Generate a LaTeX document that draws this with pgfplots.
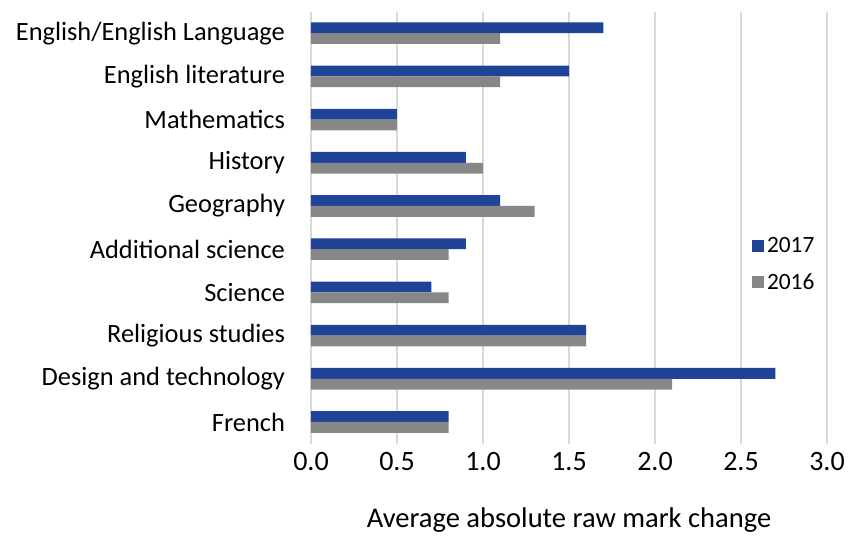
\documentclass[border=0pt]{standalone}
\usepackage{pgfplots}
\pgfplotsset{compat=1.18}
\usepackage{fontspec}
\setmainfont{Carlito}
\definecolor{c2017}{HTML}{1F4497}
\definecolor{c2016}{HTML}{878787}
\definecolor{gridc}{HTML}{D9D9D9}
\begin{document}
\begin{tikzpicture}
\useasboundingbox (-233.25pt,-70.8pt) rectangle (405.75pt,332.7pt);
\begin{axis}[
  at={(0,0)}, anchor=south west,
  scale only axis, width=387pt, height=324pt,
  xbar, bar width=0.25,
  xmin=0, xmax=3, ymin=-0.5, ymax=9.5,
  xtick={0,0.5,...,3},
  xticklabel style={/pgf/number format/fixed, /pgf/number format/fixed zerofill, /pgf/number format/precision=1, font=\fontsize{21}{24}\selectfont},
  /pgf/number format/assume math mode=true,
  ytick={0,...,9},
  yticklabels={French,Design and technology,Religious studies,Science,Additional science,Geography,History,Mathematics,English literature,English/English Language},
  yticklabel style={font=\fontsize{19.8}{22}\selectfont, xshift=-16pt},
  xticklabel style={yshift=-3pt},
  major tick length=0pt,
  axis line style={draw=none},
  xmajorgrids, grid style={gridc, line width=1.5pt},
  xlabel={Average absolute raw mark change},
  xlabel style={font=\fontsize{21.4}{24}\selectfont, yshift=-21pt},
  legend style={at={(rel axis cs:0.918,0.415)}, anchor=center, draw=none, fill=white, font=\fontsize{17.5}{20}\selectfont, row sep=10pt},
  legend cell align=left,
  legend image code/.code={\fill[#1] (0pt,-4.5pt) rectangle (9pt,4.5pt);},
]
\addplot[fill=c2017, draw=none, bar shift=0.125] coordinates {
(0.8,0) (2.7,1) (1.6,2) (0.7,3) (0.9,4) (1.1,5) (0.9,6) (0.5,7) (1.5,8) (1.7,9)};
\addlegendentry{2017}
\addplot[fill=c2016, draw=none, bar shift=-0.125] coordinates {
(0.8,0) (2.1,1) (1.6,2) (0.8,3) (0.8,4) (1.3,5) (1.0,6) (0.5,7) (1.1,8) (1.1,9)};
\addlegendentry{2016}
\end{axis}
\end{tikzpicture}
\end{document}
